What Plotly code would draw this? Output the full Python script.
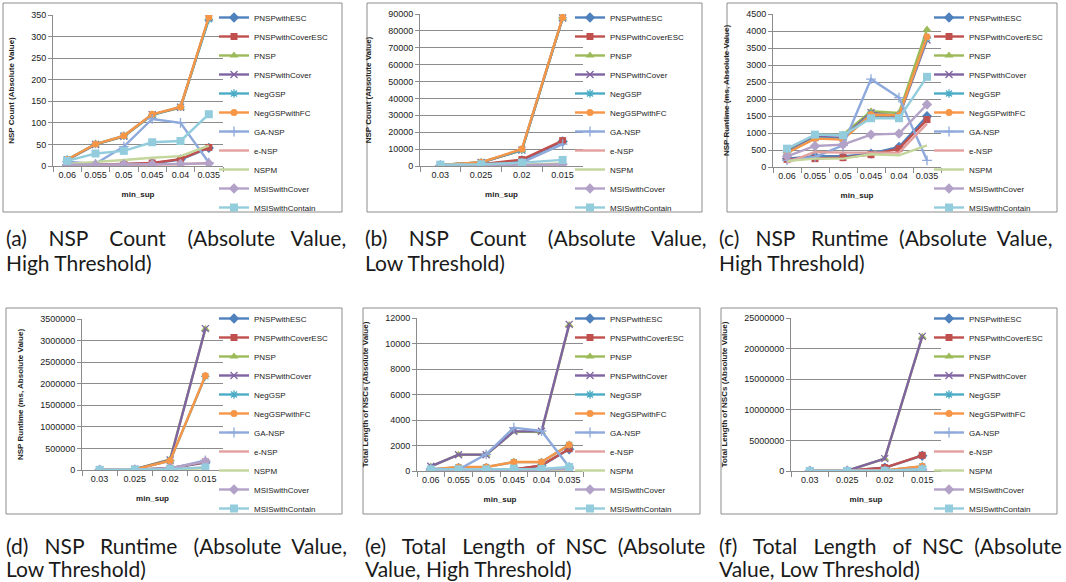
import plotly.graph_objects as go

SERIES = ["PNSPwithESC", "PNSPwithCoverESC", "PNSP", "PNSPwithCover", "NegGSP",
          "NegGSPwithFC", "GA-NSP", "e-NSP", "NSPM", "MSISwithCover", "MSISwithContain"]
COLORS = ["#4F81BD", "#C0504D", "#9BBB59", "#8064A2", "#4BACC6",
          "#F79646", "#8EA9DB", "#E2A09E", "#C3D69B", "#B3A2C7", "#93CDDD"]
SYMBOLS = ["diamond", "square", "triangle-up", "x-thin", "asterisk",
           "circle", "cross-thin", None, None, "diamond", "square"]

MINSUP_HIGH = ["0.06", "0.055", "0.05", "0.045", "0.04", "0.035"]
MINSUP_LOW = ["0.03", "0.025", "0.02", "0.015"]

# (a) NSP count, high threshold
nsp_count_high = [
    [2, 3, 4, 6, 15, 42],
    [2, 3, 5, 7, 16, 43],
    [14, 50, 68, 119, 135, 342],
    [14, 50, 69, 119, 136, 343],
    [15, 51, 70, 118, 137, 340],
    [15, 51, 70, 120, 137, 345],
    [10, 5, 45, 109, 100, 8],
    [1, 2, 2, 3, 4, 7],
    [5, 9, 14, 19, 23, 47],
    [3, 3, 4, 4, 5, 6],
    [12, 29, 35, 55, 58, 120],
]
# (b) NSP count, low threshold
nsp_count_low = [
    [300, 900, 3300, 14500],
    [300, 1000, 3800, 15000],
    [580, 2100, 9300, 87500],
    [580, 2100, 9400, 87600],
    [590, 2150, 9600, 87800],
    [600, 2200, 10000, 88000],
    [200, 600, 2000, 13000],
    [100, 200, 400, 800],
    [200, 400, 800, 1500],
    [100, 250, 500, 1000],
    [800, 1000, 2000, 3600],
]
# (c) NSP runtime, high threshold
nsp_runtime_high = [
    [245, 314, 314, 393, 589, 1493],
    [226, 245, 275, 363, 540, 1395],
    [470, 933, 953, 1640, 1590, 4047],
    [450, 880, 860, 1600, 1480, 3733],
    [420, 850, 820, 1560, 1520, 3790],
    [412, 835, 805, 1542, 1522, 3830],
    [196, 295, 639, 2584, 2043, 196],
    [128, 442, 422, 432, 422, 1277],
    [177, 245, 245, 373, 344, 639],
    [314, 619, 658, 953, 982, 1837],
    [540, 953, 933, 1434, 1434, 2652],
]
# (d) NSP runtime, low threshold
nsp_runtime_low = [
    [2000, 8000, 40000, 170000],
    [2000, 8000, 42000, 185000],
    [5000, 20000, 248000, 3270000],
    [5000, 20000, 232000, 3276000],
    [3000, 15000, 212000, 2170000],
    [3000, 15000, 217000, 2184000],
    [1000, 5000, 30000, 220000],
    [500, 2000, 10000, 60000],
    [500, 2000, 10000, 40000],
    [2000, 7000, 40000, 200000],
    [3000, 8000, 20000, 62000],
]
# (e) total length of NSC, high threshold
nsc_length_high = [
    [50, 52, 70, 120, 420, 1700],
    [52, 52, 78, 131, 444, 1752],
    [360, 1270, 1270, 3090, 3050, 11450],
    [366, 1281, 1281, 3111, 3111, 11503],
    [125, 305, 305, 695, 695, 2040],
    [131, 314, 314, 706, 706, 2065],
    [183, 105, 1307, 3399, 3137, 314],
    [20, 30, 30, 40, 50, 100],
    [20, 30, 30, 40, 50, 150],
    [30, 50, 50, 80, 100, 200],
    [131, 131, 131, 183, 157, 314],
]
# (f) total length of NSC, low threshold
nsc_length_low = [
    [5000, 30000, 520000, 2500000],
    [5000, 30000, 547000, 2570000],
    [10000, 50000, 2000000, 21950000],
    [10000, 50000, 2020000, 22000000],
    [3000, 10000, 95000, 750000],
    [3000, 10000, 100000, 766000],
    [1000, 5000, 50000, 300000],
    [500, 2000, 10000, 50000],
    [500, 2000, 10000, 60000],
    [1000, 3000, 30000, 150000],
    [2000, 5000, 40000, 270000],
]

W, H = 1066, 582


def fx(p):
    return p / W


def fy(p):
    return 1 - p / H


panels = [
    dict(cats=MINSUP_HIGH, vals=nsp_count_high, ytitle="NSP Count (Absolute Value)",
         ymax=350, dtick=50, plot=(53, 223, 15, 166), legend=(214, 3),
         box=(3, 342, 3, 212), cap=(5, 345, 237, 262),
         caption=["(a) NSP Count (Absolute Value,", "High Threshold)"]),
    dict(cats=MINSUP_LOW, vals=nsp_count_low, ytitle="NSP Count (Absolute Value)",
         ymax=90000, dtick=10000, plot=(420, 583, 14, 166), legend=(570, 3),
         box=(367, 702, 3, 212), cap=(364, 704, 237, 262),
         caption=["(b) NSP Count (Absolute Value,", "Low Threshold)"]),
    dict(cats=MINSUP_HIGH, vals=nsp_runtime_high, ytitle="NSP Runtime (ms, Absolute Value)",
         ymax=4500, dtick=500, plot=(773, 941, 14, 167), legend=(929, 3),
         box=(727, 1057, 3, 212), cap=(718, 1056, 237, 262),
         caption=["(c) NSP Runtime (Absolute Value,", "High Threshold)"]),
    dict(cats=MINSUP_LOW, vals=nsp_runtime_low, ytitle="NSP Runtime (ms, Absolute Value)",
         ymax=3500000, dtick=500000, plot=(82, 223, 319, 470), legend=(214, 304),
         box=(6, 342, 308, 514), cap=(5, 345, 545, 568),
         caption=["(d) NSP Runtime (Absolute Value,", "Low Threshold)"]),
    dict(cats=MINSUP_HIGH, vals=nsc_length_high, ytitle="Total Length of NSCs (Absolute Value)",
         ymax=12000, dtick=2000, plot=(417, 583, 318, 471), legend=(570, 304),
         box=(363, 700, 308, 514), cap=(364, 703, 545, 568),
         caption=["(e) Total Length of NSC (Absolute", "Value, High Threshold)"]),
    dict(cats=MINSUP_LOW, vals=nsc_length_low, ytitle="Total Length of NSCs (Absolute Value)",
         ymax=25000000, dtick=5000000, plot=(791, 941, 318, 471), legend=(929, 304),
         box=(721, 1057, 308, 514), cap=(718, 1056, 545, 568),
         caption=["(f) Total Length of NSC (Absolute", "Value, Low Threshold)"]),
]

FONT = "Liberation Sans, Arial, sans-serif"
CAPFONT = "Lato, 'Noto Sans', sans-serif"
CAPSIZE = 21
GRID = "#8C8C8C"

# approximate glyph advance widths (Arial-like, per 1000 em) for caption justification
_W = {" ": 278, "(": 333, ")": 333, ",": 278, "a": 556, "b": 556, "c": 500, "d": 556,
      "e": 556, "f": 278, "g": 556, "h": 556, "i": 222, "l": 222, "m": 833, "n": 556,
      "o": 556, "r": 333, "s": 500, "t": 278, "u": 556, "v": 500, "w": 722, "A": 667,
      "C": 722, "H": 722, "L": 556, "N": 722, "P": 667, "R": 722, "S": 667, "T": 611,
      "V": 667}
LATO_K = 0.95
SPACE_EM = 0.25


def justify(text, width, size):
    natural = sum(_W.get(c, 556) for c in text) / 1000.0 * size * LATO_K
    words = text.split(" ")
    gaps = len(words) - 1
    total = max(0, int((width - natural) / (SPACE_EM * size)))
    counts = [total // gaps + (1 if i < total % gaps else 0) for i in range(gaps)]
    out = words[0]
    for i, w in enumerate(words[1:]):
        out += " " + "\u00a0" * counts[i] + w
    return out


fig = go.Figure()
layout = dict(width=W, height=H, autosize=False,
              margin=dict(l=0, r=0, t=0, b=0, pad=0, autoexpand=False),
              paper_bgcolor="white", plot_bgcolor="white",
              font=dict(family=FONT, size=9, color="#222222"),
              shapes=[], annotations=[])

for k, p in enumerate(panels):
    n = k + 1
    xa = "x" if n == 1 else f"x{n}"
    ya = "y" if n == 1 else f"y{n}"
    lg = "legend" if n == 1 else f"legend{n}"
    for j, name in enumerate(SERIES):
        sym = SYMBOLS[j]
        thin = sym is not None and (sym.endswith("thin") or sym == "asterisk")
        tr = dict(x=p["cats"], y=p["vals"][j], name=name,
                  line=dict(color=COLORS[j], width=2.4),
                  xaxis=xa, yaxis=ya, legend=lg, hoverinfo="x+y+name")
        if sym is None:
            tr["mode"] = "lines"
        else:
            tr["mode"] = "lines+markers"
            size = 7
            if sym == "triangle-up" or sym == "diamond":
                size = 8
            if j == 10:
                size = 8
            if thin:
                tr["marker"] = dict(symbol=sym, size=7, color=COLORS[j],
                                    line=dict(color=COLORS[j], width=1.3))
            else:
                tr["marker"] = dict(symbol=sym, size=size, color=COLORS[j],
                                    line=dict(width=0))
        fig.add_trace(go.Scatter(**tr))

    x0, x1, y0, y1 = p["plot"]
    axkey_x = "xaxis" if n == 1 else f"xaxis{n}"
    axkey_y = "yaxis" if n == 1 else f"yaxis{n}"
    layout[axkey_x] = dict(domain=[fx(x0), fx(x1)], anchor=ya, type="category",
                           range=[-0.5, len(p["cats"]) - 0.5],
                           showline=True, linecolor=GRID, linewidth=1,
                           ticks="outside", tickson="boundaries", ticklen=5,
                           tickcolor=GRID, showgrid=False, zeroline=False,
                           tickangle=0, automargin=False,
                           tickfont=dict(size=9, family=FONT, color="#222222"),
                           title=dict(text="<b>min_sup</b>", standoff=12,
                                      font=dict(size=8, family=FONT, color="#222222")))
    layout[axkey_y] = dict(domain=[fy(y1), fy(y0)], anchor=xa,
                           range=[0, p["ymax"]], dtick=p["dtick"], tick0=0,
                           tickformat="d", showline=True, linecolor=GRID, linewidth=1,
                           ticks="outside", ticklen=4, tickcolor=GRID, automargin=False,
                           showgrid=True, gridcolor=GRID, gridwidth=1, zeroline=False,
                           tickfont=dict(size=9, family=FONT, color="#222222"),
                           title=dict(text="<b>" + p["ytitle"] + "</b>",
                                      font=dict(size=8, family=FONT, color="#222222")))
    lx, ly = p["legend"]
    layout[lg] = dict(x=fx(lx), y=fy(ly), xanchor="left", yanchor="top",
                      xref="paper", yref="paper", bgcolor="rgba(0,0,0,0)",
                      borderwidth=0, font=dict(size=8, family=FONT, color="#222222"),
                      itemwidth=30, tracegroupgap=0)
    bx0, bx1, by0, by1 = p["box"]
    layout["shapes"].append(dict(type="rect", xref="paper", yref="paper",
                                 x0=fx(bx0), x1=fx(bx1), y0=fy(by1), y1=fy(by0),
                                 line=dict(color=GRID, width=1), fillcolor="rgba(0,0,0,0)",
                                 layer="below"))
    cx0, cx1, cy1, cy2 = p["cap"]
    line1 = justify(p["caption"][0], cx1 - cx0, CAPSIZE)
    for line_text, cy in ((line1, cy1), (p["caption"][1], cy2)):
        layout["annotations"].append(dict(text=line_text, x=fx(cx0), y=fy(cy),
                                          xref="paper", yref="paper",
                                          xanchor="left", yanchor="middle",
                                          showarrow=False, borderpad=0,
                                          font=dict(size=CAPSIZE, family=CAPFONT,
                                                    color="#1a1a1a")))

fig.update_layout(**layout)
fig.write_html("out.html", config={"displayModeBar": False},
               post_script="document.body.style.margin='0';document.body.style.overflow='hidden';")
